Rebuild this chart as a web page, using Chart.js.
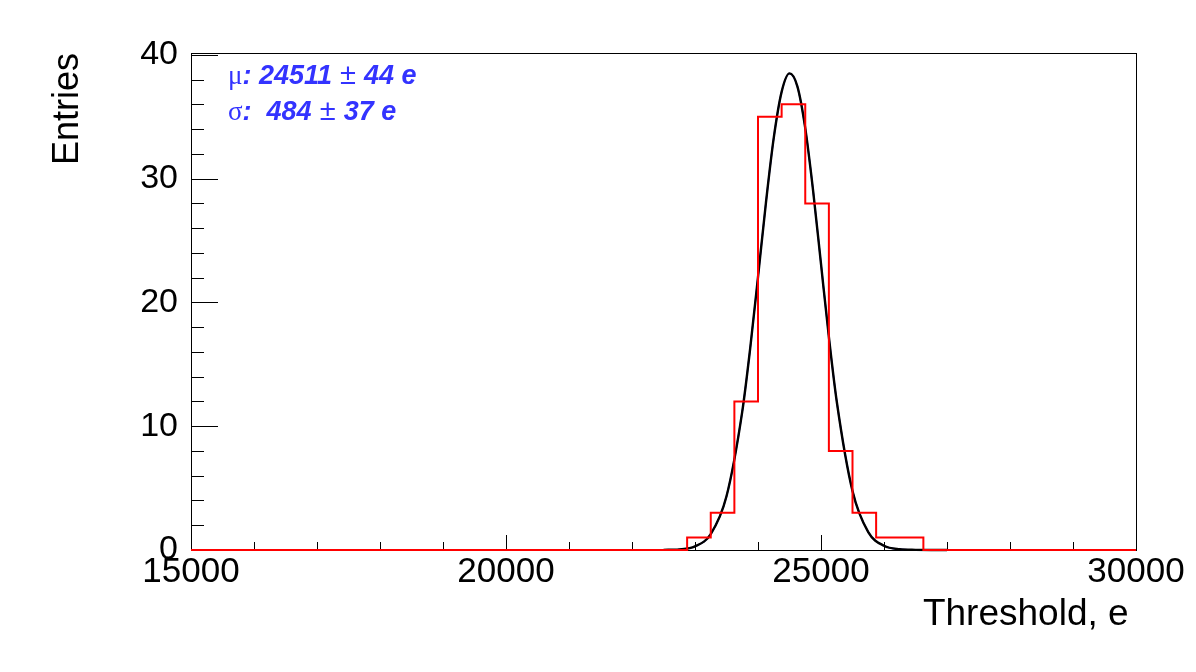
<!DOCTYPE html>
<html>
<head>
<meta charset="utf-8">
<script src="https://cdn.jsdelivr.net/npm/chart.js@4.4.0/dist/chart.umd.min.js"></script>
<style>
  body { margin: 0; background: #fff; }
  #wrap { width: 1196px; height: 672px; position: relative; }
</style>
</head>
<body>
<div id="wrap"><canvas id="thrChart"></canvas></div>
<script>
// threshold histogram, 40 bins of 375 e from 15000 to 30000
const binStart = 15000;
const binWidth = 375;
const counts = [
  0, 0, 0, 0, 0, 0, 0, 0, 0, 0,
  0, 0, 0, 0, 0, 0, 0, 0, 0, 0,
  0, 1, 3, 12, 35, 36, 28, 8, 3, 1,
  1, 0, 0, 0, 0, 0, 0, 0, 0, 0
];

// gaussian fit curve
const fitX = [22500, 22750, 23000, 23250, 23500, 23750, 23875, 24000, 24125, 24250, 24375, 24500,
  24625, 24750, 24875, 25000, 25125, 25250, 25500, 25750, 26000, 26250, 26500, 26750, 27000];
const fitY = [0.01, 0.05, 0.29, 1.29, 4.34, 11.18, 16.24, 22.05, 28.01, 33.29, 37.01, 38.5,
  37.45, 34.08, 29.02, 23.11, 17.22, 12.0, 4.77, 1.45, 0.34, 0.06, 0.01, 0, 0];

const xLabels = [15000, 20000, 25000, 30000];
const yLabels = [0, 10, 20, 30, 40];

const fitLines = [
  [["μ", "normal 27px 'Liberation Serif'"], [": 24511", "italic bold 27px 'Liberation Sans'"],
   [" ± ", "normal 29px 'Liberation Sans'"], ["44 e", "italic bold 27px 'Liberation Sans'"]],
  [["σ", "normal 27px 'Liberation Serif'"], [":  484", "italic bold 27px 'Liberation Sans'"],
   [" ± ", "normal 29px 'Liberation Sans'"], ["37 e", "italic bold 27px 'Liberation Sans'"]]
];

const histPoints = counts.map((c, i) => ({ x: binStart + i * binWidth, y: c }));
histPoints.push({ x: binStart + counts.length * binWidth, y: 0 });
const fitPoints = fitX.map((x, i) => ({ x: x, y: fitY[i] }));

// frame + inward ticks, ROOT style
const framePlugin = {
  id: "frame",
  beforeDatasetsDraw(chart) {
    const { ctx, chartArea: a, scales } = chart;
    ctx.save();
    ctx.strokeStyle = "#000";
    ctx.lineWidth = 1;
    ctx.strokeRect(a.left + 0.5, a.top + 0.5, a.right - a.left, a.bottom - a.top);
    ctx.beginPath();
    for (let v = 15000; v <= 30000; v += 1000) {
      const px = Math.round(scales.x.getPixelForValue(v)) + 0.5;
      const len = v % 5000 === 0 ? 15 : 8;
      ctx.moveTo(px, a.bottom);
      ctx.lineTo(px, a.bottom - len);
    }
    for (let v = 0; v <= 40; v += 2) {
      const py = Math.round(scales.y.getPixelForValue(v)) + 0.5;
      const len = v % 10 === 0 ? 27 : 13;
      ctx.moveTo(a.left, py);
      ctx.lineTo(a.left + len, py);
    }
    ctx.stroke();
    ctx.restore();
  },
  afterDraw(chart) {
    const ctx = chart.ctx;
    ctx.save();
    ctx.fillStyle = "#3333ff";
    ctx.textBaseline = "alphabetic";
    fitLines.forEach((parts, li) => {
      let x = 228;
      const y = 84 + li * 36;
      parts.forEach(([txt, font]) => {
        ctx.font = font;
        ctx.fillText(txt, x, y);
        x += ctx.measureText(txt).width;
      });
    });
    ctx.restore();
  }
};

new Chart(document.getElementById("thrChart"), {
  type: "line",
  data: {
    datasets: [
      {
        data: histPoints,
        stepped: "before",
        borderColor: "#ff0000",
        borderWidth: 2,
        pointRadius: 0,
        fill: false,
        clip: false
      },
      {
        data: fitPoints,
        borderColor: "#000000",
        borderWidth: 2.4,
        pointRadius: 0,
        cubicInterpolationMode: "monotone",
        fill: false,
        clip: false
      },
      {
        data: fitPoints,
        borderColor: "#1a1aff",
        borderWidth: 1.5,
        pointRadius: 0,
        cubicInterpolationMode: "monotone",
        fill: false,
        clip: false
      }
    ]
  },
  options: {
    responsive: true,
    maintainAspectRatio: false,
    animation: false,
    layout: { padding: { top: 53, right: 60, left: 0, bottom: 0 } },
    plugins: { legend: { display: false }, tooltip: { enabled: false } },
    scales: {
      x: {
        type: "linear",
        min: 15000,
        max: 30000,
        afterFit(s) { s.height = 122; },
        afterBuildTicks(s) { s.ticks = xLabels.map(v => ({ value: v })); },
        grid: { display: false, drawTicks: false },
        border: { display: false },
        ticks: {
          padding: 1,
          color: "#000",
          font: { family: "'Liberation Sans', Arial, sans-serif", size: 35 },
          callback: v => String(v),
          maxRotation: 0,
          autoSkip: false
        },
        title: {
          display: true,
          text: "Threshold, e\u2009",
          align: "end",
          color: "#000",
          font: { family: "'Liberation Sans', Arial, sans-serif", size: 37 },
          padding: { top: 0, bottom: 35 }
        }
      },
      y: {
        min: 0,
        max: 40.15,
        afterFit(s) { s.width = 191; },
        afterBuildTicks(s) { s.ticks = yLabels.map(v => ({ value: v })); },
        grid: { display: false, drawTicks: false },
        border: { display: false },
        ticks: {
          padding: 13,
          color: "#000",
          font: { family: "'Liberation Sans', Arial, sans-serif", size: 34 },
          callback: v => String(v)
        },
        title: {
          display: true,
          text: "Entries",
          align: "end",
          color: "#000",
          font: { family: "'Liberation Sans', Arial, sans-serif", size: 36 },
          padding: { top: 46, bottom: 0 }
        }
      }
    }
  },
  plugins: [framePlugin]
});
</script>
</body>
</html>
